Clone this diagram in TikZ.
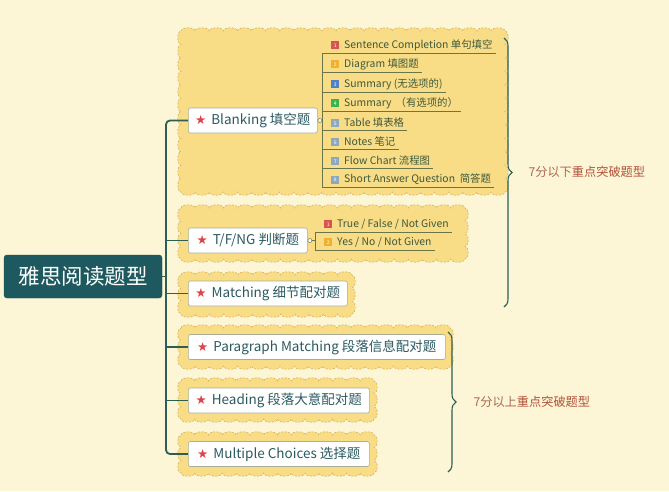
\documentclass[tikz,border=0pt]{standalone}
\usepackage{fontspec}
\setmainfont{Noto Sans CJK SC}
\newfontfamily\symfont{DejaVu Sans}
\usetikzlibrary{decorations.pathreplacing}
\definecolor{bgc}{HTML}{FDF6D6}
\definecolor{cloudfill}{HTML}{F9DC86}
\definecolor{cloudborder}{HTML}{D6B25A}
\definecolor{nodeborder}{HTML}{A9AD96}
\definecolor{maintext}{HTML}{2C5A62}
\definecolor{starred}{HTML}{D9454A}
\definecolor{subtext}{HTML}{3D5A3C}
\definecolor{ulinecol}{HTML}{6A7548}
\definecolor{trunkcol}{HTML}{2D5F55}
\definecolor{rootcol}{HTML}{1E5960}
\definecolor{lblcol}{HTML}{B0513A}
\definecolor{lblcolb}{HTML}{A86A55}
\definecolor{icA}{HTML}{D9534F}
\definecolor{icB}{HTML}{F0B030}
\definecolor{icC}{HTML}{4F81C7}
\definecolor{icD}{HTML}{3CB44B}
\definecolor{icE}{HTML}{8EA9BE}
\newcommand\rstar{{\symfont\fontsize{12.5}{12}\selectfont\textcolor{starred}{★}}}
\newcommand\ico[2]{\raisebox{-0.8pt}{\setlength\fboxsep{0pt}\colorbox{#1}{\makebox[8pt]{\rule{0pt}{8pt}\raisebox{1.6pt}{\fontsize{5}{5}\selectfont\color{white}#2}}}}}
% scalloped cloud: x1 y1 x2 y2 (inner rectangle), bumps outward
\newcommand\cloudbox[4]{%
  \pgfmathtruncatemacro\cnx{round((#3-#1)/14)}%
  \pgfmathtruncatemacro\cny{max(2,round((#4-#2)/14))}%
  \pgfmathsetmacro\csx{(#3-#1)/\cnx/2}%
  \pgfmathsetmacro\csy{(#4-#2)/\cny/2}%
  \path[cloud] (#1,#2)
    \foreach \ci in {1,...,\cnx} { arc[start angle=180, end angle=360, x radius=\csx, y radius=3.2] }
    \foreach \ci in {1,...,\cny} { arc[start angle=-90, end angle=90, x radius=3.2, y radius=\csy] }
    \foreach \ci in {1,...,\cnx} { arc[start angle=0, end angle=180, x radius=\csx, y radius=3.2] }
    \foreach \ci in {1,...,\cny} { arc[start angle=90, end angle=270, x radius=3.2, y radius=\csy] }
    -- cycle;}
\begin{document}
\begin{tikzpicture}[x=1pt,y=-1pt,
  mainbox/.style={draw=nodeborder, fill=white, rounded corners=2pt, minimum height=25pt, anchor=west, inner sep=0pt, font=\fontsize{13.5}{15}\selectfont, text=maintext, line width=0.6pt},
  cloud/.style={fill=cloudfill, draw=cloudborder, dash pattern=on 2pt off 1.5pt, line width=0.6pt},
  sub/.style={anchor=south west, minimum height=15pt, inner xsep=3pt, inner ysep=0pt, font=\fontsize{10.4}{12}\selectfont, text=subtext},
  uline/.style={draw=ulinecol, line width=0.7pt},
  trunk/.style={draw=trunkcol, line width=1.8pt},
  brc/.style={draw=trunkcol, line width=1.1pt, decorate, decoration={brace, amplitude=8pt}},
  lbl/.style={anchor=west, font=\fontsize{12.2}{14}\selectfont, text=lblcol},
  knob/.style={circle, draw=ulinecol, fill=white, minimum size=4pt, inner sep=0pt, line width=0.5pt}
]
\fill[bgc] (0,0) rectangle (669,491);
\useasboundingbox (0,0) rectangle (669,491);

% clouds
\cloudbox{181}{31}{505}{192}
\cloudbox{181}{208}{465}{259}
\cloudbox{181}{275}{352}{314}
\cloudbox{181}{328}{450}{366}
\cloudbox{181}{381}{374}{419}
\cloudbox{181}{435}{374}{473}

% root and main nodes
\node[fill=rootcol, draw=rootcol!80!black, rounded corners=3pt, minimum width=158pt, minimum height=43pt, text=white, font=\fontsize{21.5}{23}\selectfont] (root) at (83,276.5) {雅思阅读题型};
\node[mainbox, minimum width=129pt] (blank) at (188,120.5) {\rstar\hspace{5pt}Blanking 填空题};
\node[mainbox, minimum width=119pt] (tf) at (188,240.5) {\rstar\hspace{5pt}T/F/NG 判断题};
\node[mainbox, minimum width=159pt] (match) at (188,293.5) {\rstar\hspace{5pt}Matching 细节配对题};
\node[mainbox, minimum width=257pt] (para) at (188,347) {\rstar\hspace{5pt}Paragraph Matching 段落信息配对题};
\node[mainbox, minimum width=181pt] (head) at (188,400.5) {\rstar\hspace{5pt}Heading 段落大意配对题};
\node[mainbox, minimum width=181pt] (multi) at (188,454) {\rstar\hspace{5pt}Multiple Choices 选择题};

% trunk
\coordinate (tx) at (166,0);
\draw[trunk, rounded corners=4pt] (blank.west) -- (blank.west -| tx) -- (multi.west -| tx) -- (multi.west);
\foreach \n in {tf, match, para, head} \draw[trunk] (\n.west -| tx) -- (\n.west);
\draw[trunk] (root.east) -- (root.east -| tx);

% blanking sub items
\coordinate (bv) at (322,0);
\node[sub] (s1) at (328,53) {\ico{icA}{1}\hspace{5pt}Sentence Completion 单句填空};
\node[sub] (s2) at (328,72) {\ico{icB}{2}\hspace{5pt}Diagram 填图题};
\node[sub] (s3) at (328,92) {\ico{icC}{3}\hspace{5pt}Summary (无选项的)};
\node[sub] (s4) at (328,111) {\ico{icD}{4}\hspace{5pt}Summary \,（有选项的）};
\node[sub] (s5) at (328,130) {\ico{icE}{5}\hspace{5pt}Table 填表格};
\node[sub] (s6) at (328,149) {\ico{icE}{6}\hspace{5pt}Notes 笔记};
\node[sub] (s7) at (328,168) {\ico{icE}{7}\hspace{5pt}Flow Chart 流程图};
\node[sub] (s8) at (328,187) {\ico{icE}{8}\hspace{5pt}Short Answer Question\ \ 简答题};
\foreach \i in {1,...,8} \draw[uline] (bv |- s\i.south) -- (s\i.south east);
\draw[uline] (bv |- s1.south) -- (bv |- s8.south);
\node[knob, anchor=west] (k1) at (blank.east) {};
\draw[uline] (k1.east) -- (k1.east -| bv);

% T/F/NG sub items
\coordinate (tv) at (315,0);
\node[sub] (t1) at (321,232) {\ico{icA}{1}\hspace{5pt}True / False / Not Given};
\node[sub] (t2) at (321,250) {\ico{icB}{2}\hspace{5pt}Yes / No / Not Given};
\foreach \i in {1,2} \draw[uline] (tv |- t\i.south) -- (t\i.south east);
\draw[uline] (tv |- t1.south) -- (tv |- t2.south);
\node[knob, anchor=west] (k2) at (tf.east) {};
\draw[uline] (k2.east) -- (k2.east -| tv);

% braces
\coordinate (b1a) at (504,38);
\coordinate (b1b) at (504,307);
\draw[brc] (b1a) -- (b1b);
\node[lbl] (l1) at (525,172) {\textcolor{lblcolb}{7分以下}重点突破题型};
\coordinate (b2a) at (448,332);
\coordinate (b2b) at (448,472);
\draw[brc] (b2a) -- (b2b);
\node[lbl] (l2) at (470,402) {\textcolor{lblcolb}{7分以上}重点突破题型};
\end{tikzpicture}
\end{document}
